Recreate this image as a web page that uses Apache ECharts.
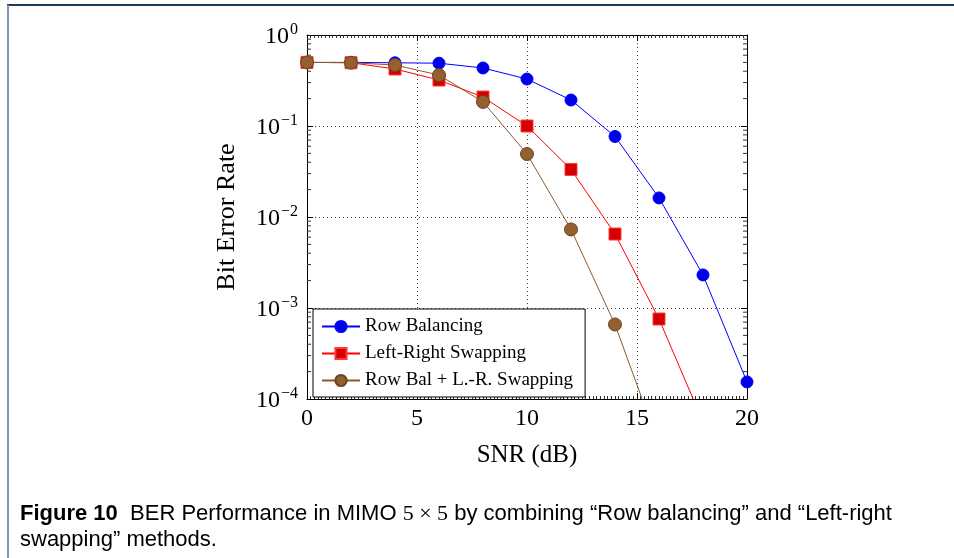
<!DOCTYPE html>
<html>
<head>
<meta charset="utf-8">
<script src="https://cdn.jsdelivr.net/npm/echarts@6/dist/echarts.min.js"></script>
<style>
html,body{margin:0;padding:0;background:#fff;}
#chart{width:954px;height:558px;}
</style>
</head>
<body>
<div id="chart"></div>
<script>
var snr = [0, 2, 4, 6, 8, 10, 12, 14, 16, 18, 20];
var rowBalancing = [0.5, 0.5, 0.495, 0.49, 0.434, 0.328, 0.193, 0.0767, 0.0162, 0.00231, 0.000154];
var leftRight = [0.5, 0.496, 0.423, 0.32, 0.208, 0.1, 0.0333, 0.0065, 0.000757, 0.000056];
var rowBalLR = [0.5, 0.496, 0.468, 0.363, 0.184, 0.0492, 0.0073, 0.000659, 0.000031];
var xTicks = [0, 5, 10, 15, 20];
var yDecades = [-4, -3, -2, -1, 0];
var seriesNames = ['Row Balancing', 'Left-Right Swapping', 'Row Bal + L.-R. Swapping'];

var yMinor = [];
for (var d = -4; d < 0; d++) {
  for (var m = 2; m <= 9; m++) yMinor.push([0, m * Math.pow(10, d)]);
}
function pairs(vals) {
  return vals.map(function (v, i) { return [snr[i], v]; });
}
var serif = '"Liberation Serif", "DejaVu Serif", serif';
var sans = '"Liberation Sans", sans-serif';
var gridDotted = { show: true, lineStyle: { color: '#444', type: [1, 3], width: 1 } };

var chart = echarts.init(document.getElementById('chart'));
chart.setOption({
  animation: false,
  backgroundColor: '#fff',
  grid: { left: 307, right: 207, top: 35, bottom: 159 },
  legend: {
    orient: 'vertical',
    left: 313, top: 309,
    data: seriesNames,
    backgroundColor: '#fff',
    borderColor: '#000', borderWidth: 1,
    padding: [8, 12, 7, 8],
    itemGap: 8,
    itemWidth: 38, itemHeight: 14,
    textStyle: { fontFamily: serif, fontSize: 19, color: '#000' }
  },
  xAxis: [{
    type: 'value', min: 0, max: 20, interval: 5,
    name: 'SNR (dB)', nameLocation: 'middle', nameGap: 44,
    nameTextStyle: { fontFamily: serif, fontSize: 25, color: '#000' },
    axisLine: { onZero: false, lineStyle: { color: '#000', width: 1 } },
    axisTick: { inside: true, length: 6, lineStyle: { color: '#000' } },
    minorTick: { show: true, splitNumber: 30, length: 3, lineStyle: { color: '#333' } },
    axisLabel: { fontFamily: serif, fontSize: 24, color: '#000', margin: 8,
      formatter: function (v) { return xTicks.indexOf(v) >= 0 ? String(v) : ''; } },
    splitLine: gridDotted
  }, {
    type: 'value', min: 0, max: 20, interval: 5, position: 'top',
    axisLine: { onZero: false, lineStyle: { color: '#000', width: 1 } },
    axisTick: { inside: true, length: 6, lineStyle: { color: '#000' } },
    minorTick: { show: true, splitNumber: 30, length: 3, lineStyle: { color: '#333' } },
    axisLabel: { show: false },
    splitLine: { show: false }
  }],
  yAxis: [{
    type: 'log', logBase: 10, min: 0.0001, max: 1, interval: 1,
    name: 'Bit Error Rate', nameLocation: 'middle', nameGap: 67, nameRotate: 90,
    nameTextStyle: { fontFamily: serif, fontSize: 26, color: '#000' },
    axisLine: { show: true, onZero: false, lineStyle: { color: '#000', width: 1 } },
    axisTick: { show: true, inside: true, length: 6, lineStyle: { color: '#000' } },
    axisLabel: {
      margin: 9, color: '#000',
      formatter: function (v) {
        var e = Math.round(Math.log10(v));
        if (yDecades.indexOf(e) < 0) return '';
        return '{b|10}{e|' + (e < 0 ? '\u2212' + (-e) : String(e)) + '}';
      },
      rich: {
        b: { fontFamily: serif, fontSize: 24, color: '#000', verticalAlign: 'bottom', lineHeight: 24 },
        e: { fontFamily: serif, fontSize: 16, color: '#000', verticalAlign: 'bottom', padding: [0, 0, 11, 1] }
      }
    },
    splitLine: gridDotted
  }, {
    type: 'log', logBase: 10, min: 0.0001, max: 1, interval: 1, position: 'right',
    axisLine: { show: true, onZero: false, lineStyle: { color: '#000', width: 1 } },
    axisTick: { show: true, inside: true, length: 6, lineStyle: { color: '#000' } },
    axisLabel: { show: false },
    splitLine: { show: false }
  }],
  series: [{
    name: seriesNames[0], type: 'line', data: pairs(rowBalancing),
    symbol: 'circle', symbolSize: 12, clip: true,
    lineStyle: { color: '#0000ff', width: 1 },
    itemStyle: { color: '#0000e6', borderColor: '#0000ff', borderWidth: 1 },
    z: 3
  }, {
    name: seriesNames[1], type: 'line', data: pairs(leftRight),
    symbol: 'rect', symbolSize: 12, clip: true,
    lineStyle: { color: '#ff0000', width: 1 },
    itemStyle: { color: '#d40000', borderColor: '#ff3a3a', borderWidth: 1 },
    z: 4
  }, {
    name: seriesNames[2], type: 'line', data: pairs(rowBalLR),
    symbol: 'circle', symbolSize: 13, clip: true,
    lineStyle: { color: '#8b5a2b', width: 1 },
    itemStyle: { color: '#93612f', borderColor: '#6e4420', borderWidth: 1 },
    z: 5
  }, {
    type: 'custom', data: yMinor, silent: true, z: 2,
    renderItem: function (params, api) {
      var v = api.value(1);
      var pl = api.coord([0, v]);
      var pr = api.coord([20, v]);
      var st = { stroke: '#333', lineWidth: 1 };
      return { type: 'group', children: [
        { type: 'line', shape: { x1: pl[0], y1: pl[1], x2: pl[0] + 4, y2: pl[1] }, style: st },
        { type: 'line', shape: { x1: pr[0] - 4, y1: pr[1], x2: pr[0], y2: pr[1] }, style: st }
      ] };
    }
  }],
  graphic: [
    { type: 'line', shape: { x1: 7, y1: 5, x2: 954, y2: 5 }, style: { stroke: '#1d3a5f', lineWidth: 2 } },
    { type: 'line', shape: { x1: 8, y1: 5, x2: 8, y2: 558 }, style: { stroke: '#8195ad', lineWidth: 2 } },
    { type: 'text', left: 20, top: 503,
      style: {
        text: '{bold|Figure 10}  BER Performance in MIMO {m|5 \u00d7 5} by combining \u201cRow balancing\u201d and \u201cLeft-right',
        rich: {
          bold: { fontFamily: sans, fontSize: 22, fontWeight: 'bold', fill: '#000' },
          m: { fontFamily: serif, fontSize: 22, fill: '#000' }
        },
        fontFamily: sans, fontSize: 22, fill: '#000'
      } },
    { type: 'text', left: 20, top: 529,
      style: { text: 'swapping\u201d methods.', fontFamily: sans, fontSize: 22, fill: '#000' } }
  ]
});
</script>
</body>
</html>
